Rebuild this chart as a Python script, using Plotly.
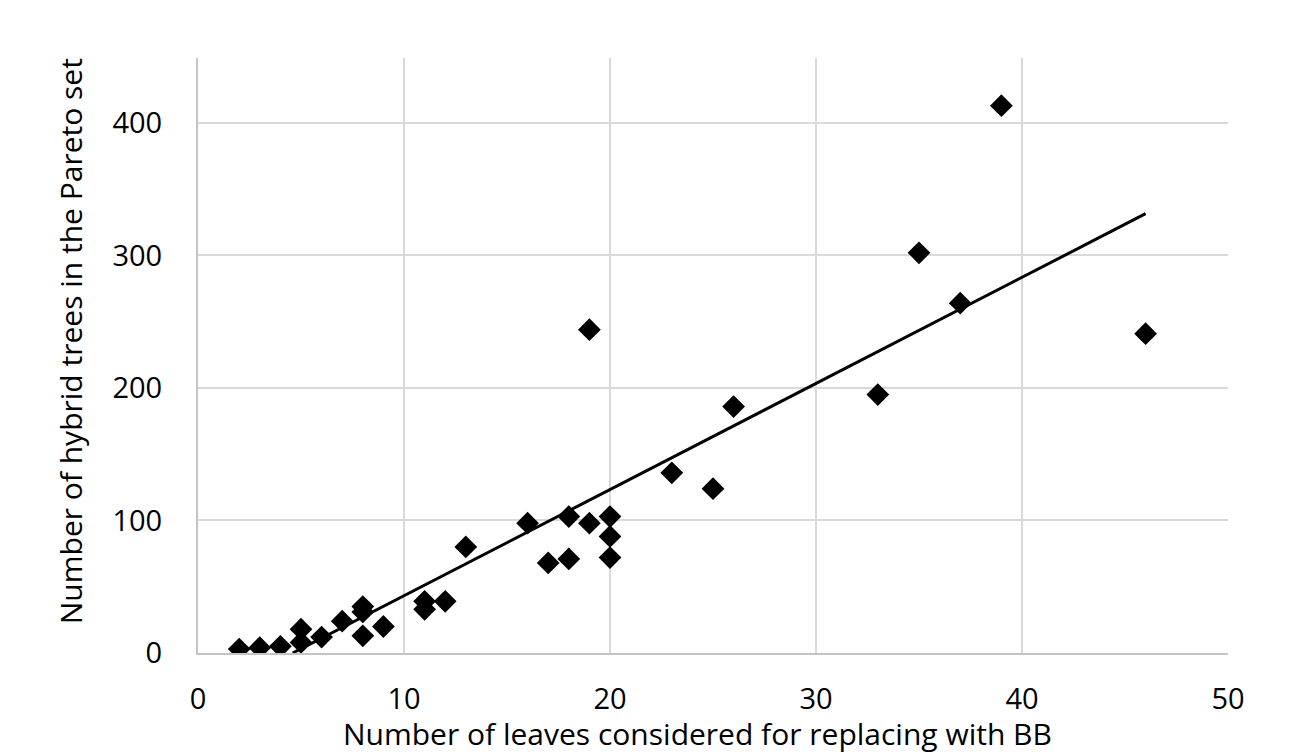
import numpy as np
import plotly.graph_objects as go

leaves = [2, 3, 4, 5, 5, 6, 7, 8, 8, 8, 9, 11, 11, 12, 13, 16, 17, 18, 18, 19, 19,
          20, 20, 20, 23, 25, 26, 33, 35, 37, 39, 46]
hybrid_trees = [3, 4, 5, 8, 18, 12, 24, 35, 31, 13, 20, 33, 39, 39, 80, 98, 68, 103, 71, 98, 244,
                103, 88, 72, 136, 124, 186, 195, 302, 264, 413, 241]
x_ticks = [0, 10, 20, 30, 40, 50]
y_ticks = [0, 100, 200, 300, 400]
x_title = "Number of leaves considered for replacing with BB"
y_title = "Number of hybrid trees in the Pareto set"

# linear trendline (least squares), clipped at y = 0 like the source chart
slope, intercept = np.polyfit(leaves, hybrid_trees, 1)
x_start = max(min(leaves), -intercept / slope)
x_end = max(leaves)
trend_x = [x_start, x_end]
trend_y = [slope * x_start + intercept, slope * x_end + intercept]

FONT = "Open Sans"

fig = go.Figure()
fig.add_trace(go.Scatter(
    x=trend_x, y=trend_y, mode="lines",
    line=dict(color="black", width=3), showlegend=False, hoverinfo="skip"))
fig.add_trace(go.Scatter(
    x=leaves, y=hybrid_trees, mode="markers",
    marker=dict(symbol="diamond", size=17.5, color="black", line=dict(width=0)),
    showlegend=False))

fig.update_layout(
    width=1305, height=755,
    margin=dict(l=198, r=77, t=58, b=102),
    paper_bgcolor="white", plot_bgcolor="white",
    font=dict(family=FONT, size=29, color="black"),
    xaxis=dict(
        range=[0, 50], tickvals=x_ticks, showgrid=True, gridcolor="#d9d9d9", gridwidth=2,
        zeroline=False, showline=True, linecolor="#c4c4c4", linewidth=2,
        ticks="", ticklabelstandoff=19,
    ),
    yaxis=dict(
        range=[0, 449], tickvals=y_ticks, showgrid=True, gridcolor="#d9d9d9", gridwidth=2,
        zeroline=False, showline=True, linecolor="#c4c4c4", linewidth=2,
        ticks="", ticklabelstandoff=28,
    ),
    annotations=[
        dict(text=x_title, xref="paper", yref="paper", x=0.485, y=0,
             xanchor="center", yanchor="middle", yshift=-80, showarrow=False,
             font=dict(family=FONT, size=30, color="black")),
        dict(text=y_title, xref="paper", yref="paper", x=0, y=0.524,
             xanchor="center", yanchor="middle", xshift=-128, textangle=-90,
             showarrow=False, font=dict(family=FONT, size=30, color="black")),
    ],
)

fig.write_html("out.html")
